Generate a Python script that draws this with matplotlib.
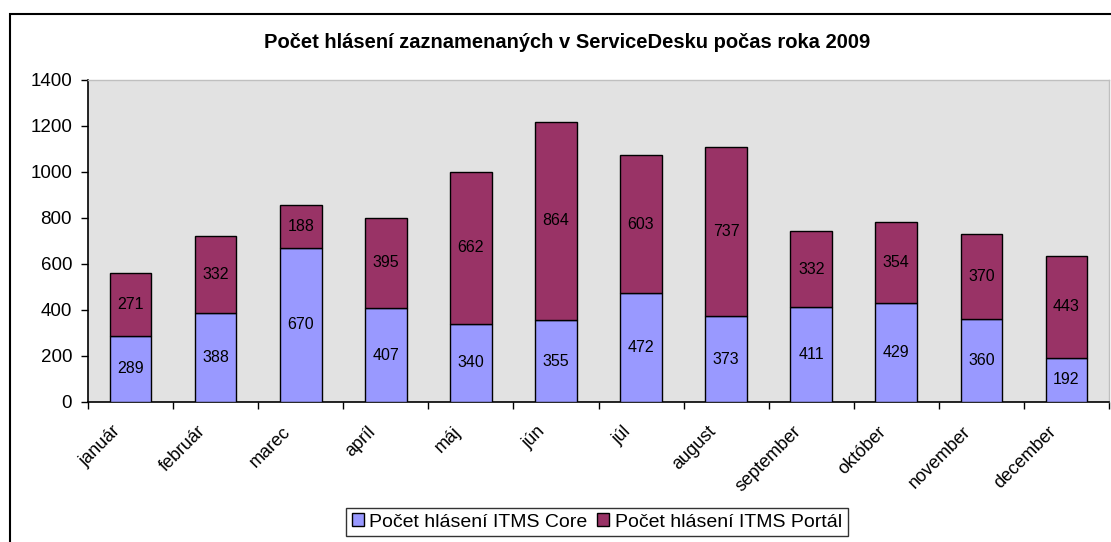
import matplotlib
matplotlib.use("Agg")
import matplotlib.pyplot as plt
import matplotlib.transforms as mtransforms
import numpy as np
from matplotlib.patches import Rectangle

months = ["január", "február", "marec", "apríl", "máj", "jún", "júl",
          "august", "september", "október", "november", "december"]
core = [289, 388, 670, 407, 340, 355, 472, 373, 411, 429, 360, 192]
portal = [271, 332, 188, 395, 662, 864, 603, 737, 332, 354, 370, 443]
series_names = ["Počet hlásení ITMS Core", "Počet hlásení ITMS Portál"]
title = "Počet hlásení zaznamenaných v ServiceDesku počas roka 2009"
yticks = [0, 200, 400, 600, 800, 1000, 1200, 1400]

plt.rcParams['font.family'] = ['Liberation Sans', 'DejaVu Sans']

W, H = 1111, 542
fig = plt.figure(figsize=(W / 100, H / 100), dpi=100)
fig.patch.set_facecolor("white")

# outer chart border
fig.add_artist(Rectangle((9.5 / W, -0.02), 1.1, (H - 14) / H + 0.02,
                         transform=fig.transFigure, fill=False,
                         edgecolor="black", linewidth=1.5))

l, r, t, b = 88, 1109, 80, 402
ax = fig.add_axes([l / W, 1 - b / H, (r - l) / W, (b - t) / H])
ax.set_facecolor("#E2E2E2")

x = np.arange(len(months))
c_blue = "#9999FF"
c_red = "#993366"
bars1 = ax.bar(x, core, width=0.49, color=c_blue, edgecolor="black",
               linewidth=1.0, label=series_names[0], zorder=3)
bars2 = ax.bar(x, portal, width=0.49, bottom=core, color=c_red,
               edgecolor="black", linewidth=1.0, label=series_names[1], zorder=3)

for i in range(len(months)):
    ax.text(x[i], core[i] / 2, str(core[i]), ha="center", va="center",
            fontsize=11.5, color="black", zorder=4)
    ax.text(x[i], core[i] + portal[i] / 2, str(portal[i]), ha="center",
            va="center", fontsize=11.5, color="black", zorder=4)

ax.set_xlim(-0.5, len(months) - 0.5)
ax.set_ylim(0, 1400)
ax.set_yticks(yticks)
ax.set_yticklabels([str(v) for v in yticks], fontsize=13.5)
ax.tick_params(axis="y", direction="out", length=5, width=1, pad=6.5)

ax.set_xticks(np.arange(len(months) + 1) - 0.5)
ax.set_xticklabels([])
ax.tick_params(axis="x", direction="out", length=5, width=1)

# rotated month labels (Excel style)
off = mtransforms.ScaledTranslation(-19 / 100, -21 / 100, fig.dpi_scale_trans)
trans = ax.get_xaxis_transform() + off
for i, m in enumerate(months):
    ax.text(x[i], 0, m, transform=trans, rotation=45, ha="right", va="top",
            rotation_mode="anchor", fontsize=13)

for side in ["top", "right"]:
    ax.spines[side].set_color("#BFBFBF")
    ax.spines[side].set_linewidth(1)
for side in ["left", "bottom"]:
    ax.spines[side].set_color("black")
    ax.spines[side].set_linewidth(1.2)

fig.text(567 / W, 1 - 48 / H, title, ha="center", va="baseline",
         fontsize=14.5, fontweight="bold")

leg = fig.legend(handles=[bars1, bars2], labels=series_names,
                 loc="center", bbox_to_anchor=(597 / W, 1 - 522 / H),
                 ncol=2, fontsize=14, frameon=True, fancybox=False,
                 handlelength=0.6, handleheight=0.6, handletextpad=0.3,
                 columnspacing=0.5, borderpad=0.3, borderaxespad=0)
leg.get_frame().set_edgecolor("black")
leg.get_frame().set_linewidth(1)

fig.savefig("out.png", dpi=100)
